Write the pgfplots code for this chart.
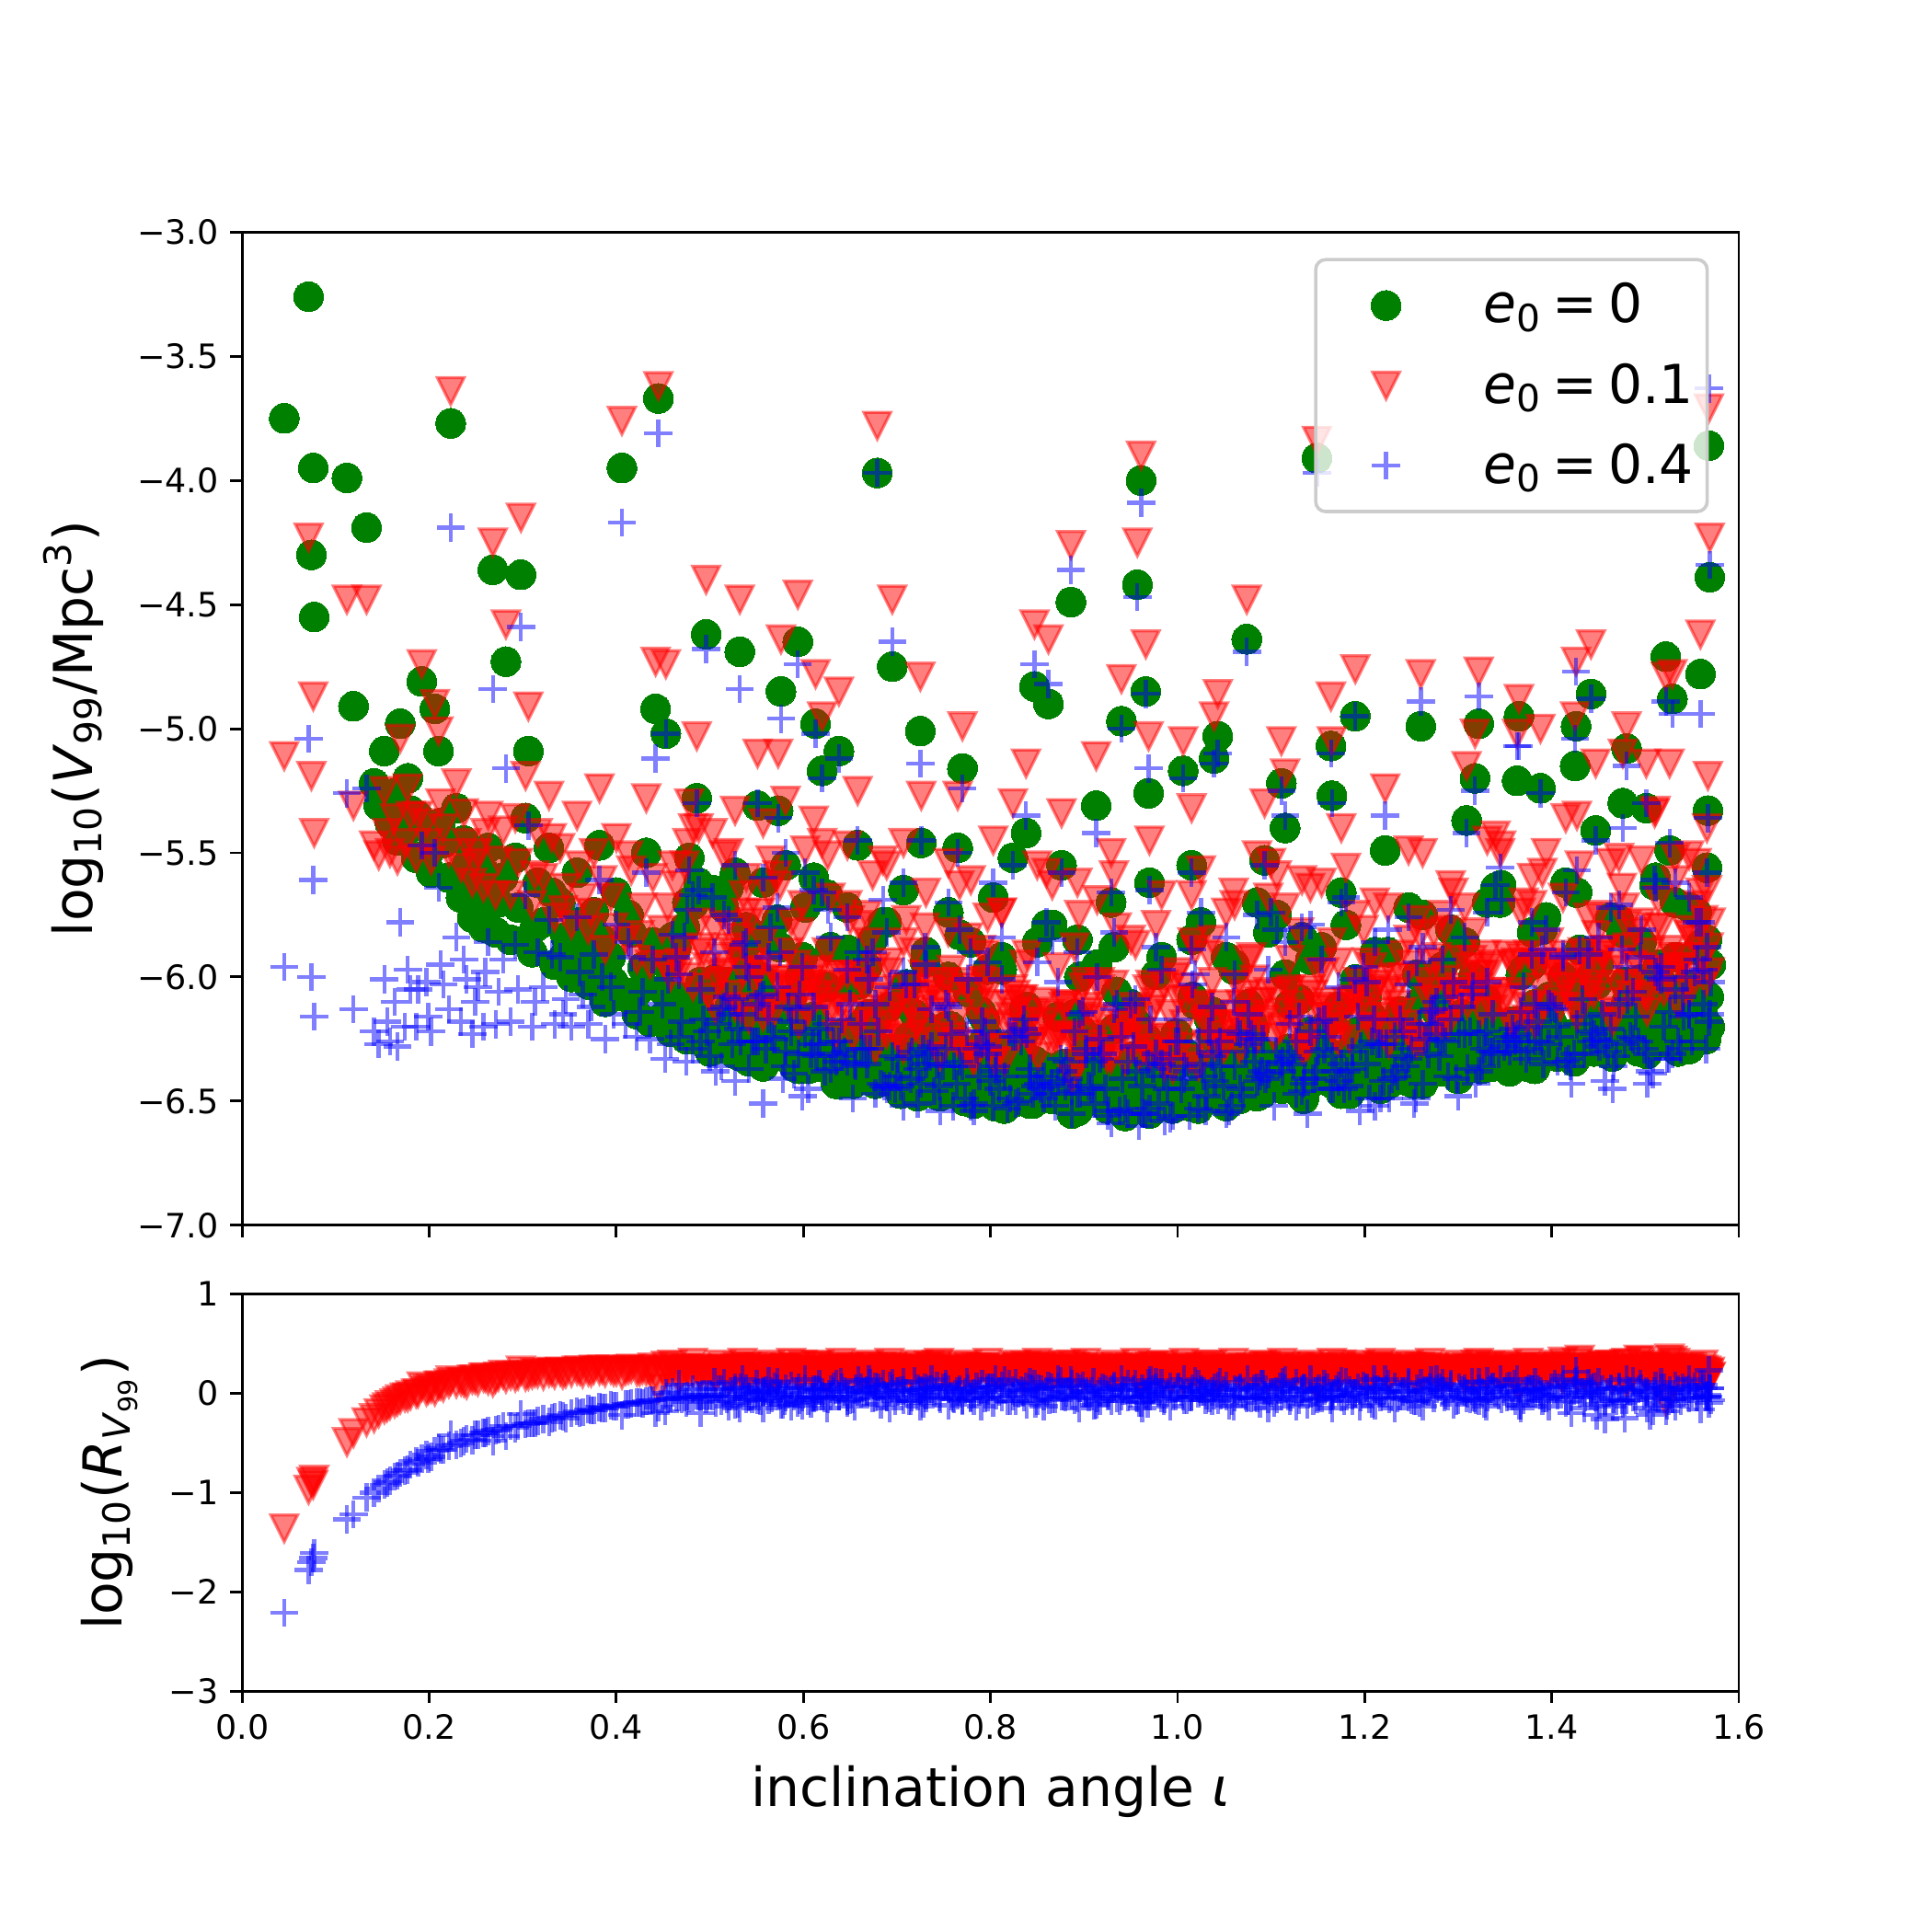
\documentclass[border=0pt]{standalone}
\usepackage{fontspec}
\setmainfont{DejaVu Sans}
\usepackage{pgfplots}
\usepackage{pgfplotstable}
\pgfplotsset{compat=1.18}
\definecolor{mplgreen}{RGB}{0,128,0}
\definecolor{leggray}{RGB}{204,204,204}
\pgfdeclareplotmark{tridown}{%
  \pgfpathmoveto{\pgfqpoint{0pt}{-\pgfplotmarksize}}%
  \pgfpathlineto{\pgfqpoint{-\pgfplotmarksize}{\pgfplotmarksize}}%
  \pgfpathlineto{\pgfqpoint{\pgfplotmarksize}{\pgfplotmarksize}}%
  \pgfpathclose
  \pgfusepathqfillstroke
}
\newcommand{\eq}{\hspace{3.2pt}=\hspace{3.2pt}}
\begin{document}
\pgfplotstableread{
x g r b dr db
0.045 -3.75 -5.11 -5.96 -1.36 -2.21
0.071 -3.26 -4.23 -5.04 -0.97 -1.78
0.074 -4.30 -5.19 -6.00 -0.89 -1.70
0.076 -3.95 -4.87 -5.61 -0.92 -1.66
0.077 -4.55 -5.42 -6.16 -0.87 -1.61
0.112 -3.99 -4.48 -5.26 -0.49 -1.27
0.119 -4.91 -5.31 -6.13 -0.40 -1.22
0.133 -4.19 -4.48 -5.24 -0.29 -1.05
0.141 -5.22 -5.47 -6.22 -0.25 -1.00
0.146 -5.31 -5.51 -6.27 -0.20 -0.96
0.152 -5.09 -5.25 -6.01 -0.16 -0.92
0.158 -5.38 -5.50 -6.26 -0.12 -0.88
0.163 -5.26 -5.36 -6.10 -0.10 -0.84
0.169 -4.98 -5.04 -5.78 -0.06 -0.80
0.174 -5.42 -5.46 -6.20 -0.04 -0.78
0.180 -5.33 -5.35 -6.05 -0.02 -0.72
0.186 -5.52 -5.52 -6.20 0.00 -0.68
0.192 -4.81 -4.74 -5.47 0.07 -0.66
0.197 -5.40 -5.38 -6.02 0.02 -0.62
0.202 -5.58 -5.53 -6.22 0.05 -0.64
0.206 -4.92 -4.90 -5.50 0.02 -0.58
0.210 -5.09 -5.01 -5.64 0.08 -0.55
0.215 -5.46 -5.40 -6.03 0.06 -0.57
0.223 -3.77 -3.64 -4.19 0.13 -0.42
0.229 -5.32 -5.22 -5.84 0.10 -0.52
0.234 -5.68 -5.56 -6.18 0.12 -0.50
0.240 -5.55 -5.46 -6.01 0.09 -0.46
0.246 -5.76 -5.62 -6.23 0.14 -0.47
0.252 -5.62 -5.50 -6.04 0.12 -0.42
0.258 -5.80 -5.64 -6.20 0.16 -0.40
0.263 -5.48 -5.35 -5.86 0.13 -0.38
0.268 -4.36 -4.25 -4.84 0.11 -0.48
0.274 -5.70 -5.53 -6.06 0.17 -0.36
0.282 -4.73 -4.58 -5.16 0.15 -0.43
0.287 -5.85 -5.67 -6.18 0.18 -0.33
0.292 -5.52 -5.36 -5.87 0.16 -0.35
0.298 -4.38 -4.15 -4.59 0.23 -0.21
0.303 -5.36 -5.19 -5.67 0.17 -0.31
0.306 -5.09 -4.91 -5.39 0.18 -0.30
0.310 -5.90 -5.71 -6.20 0.19 -0.30
0.316 -5.62 -5.42 -5.90 0.20 -0.28
0.322 -5.78 -5.60 -6.04 0.18 -0.26
0.328 -5.48 -5.27 -5.77 0.21 -0.29
0.334 -5.95 -5.76 -6.19 0.19 -0.24
0.340 -5.70 -5.48 -5.92 0.22 -0.22
0.346 -5.84 -5.64 -6.09 0.20 -0.25
0.352 -6.00 -5.79 -6.20 0.21 -0.20
0.358 -5.58 -5.35 -5.76 0.23 -0.18
0.364 -5.88 -5.68 -6.07 0.20 -0.19
0.370 -6.03 -5.81 -6.19 0.22 -0.16
0.376 -5.74 -5.50 -5.91 0.24 -0.17
0.382 -5.47 -5.24 -5.61 0.23 -0.14
0.388 -6.10 -5.89 -6.25 0.21 -0.15
0.394 -5.92 -5.68 -6.04 0.24 -0.12
0.400 -5.66 -5.44 -5.79 0.22 -0.13
0.406 -3.95 -3.76 -4.17 0.19 -0.22
0.410 -6.08 -5.85 -6.19 0.23 -0.11
0.416 -5.82 -5.57 -5.92 0.25 -0.10
0.422 -6.15 -5.93 -6.24 0.22 -0.09
0.428 -5.96 -5.72 -6.06 0.24 -0.10
0.432 -5.50 -5.28 -5.58 0.22 -0.08
0.436 -6.18 -5.95 -6.25 0.23 -0.07
0.442 -4.92 -4.73 -5.12 0.19 -0.20
0.445 -3.67 -3.62 -3.81 0.05 -0.14
0.449 -6.05 -5.81 -6.11 0.24 -0.06
0.453 -5.02 -4.74 -5.02 0.28 0.00
0.458 -6.22 -6.00 -6.27 0.22 -0.05
0.464 -5.88 -5.63 -5.92 0.25 -0.04
0.470 -6.12 -5.89 -6.18 0.23 -0.06
0.476 -5.70 -5.46 -5.73 0.24 -0.03
0.478 -5.52 -5.30 -5.57 0.22 -0.05
0.482 -6.25 -6.04 -6.29 0.21 -0.04
0.486 -5.28 -5.03 -5.30 0.25 -0.02
0.490 -6.02 -5.78 -6.05 0.24 -0.03
0.496 -4.62 -4.40 -4.68 0.22 -0.06
0.500 -6.30 -6.08 -6.32 0.22 -0.02
0.155 -5.28 -5.42 -6.18 -0.14 -0.90
0.166 -5.45 -5.53 -6.28 -0.08 -0.83
0.177 -5.20 -5.24 -5.97 -0.04 -0.77
0.188 -5.35 -5.35 -6.05 0.00 -0.70
0.199 -5.50 -5.46 -6.16 0.04 -0.66
0.212 -5.38 -5.30 -5.95 0.08 -0.57
0.221 -5.60 -5.50 -6.13 0.10 -0.53
0.237 -5.45 -5.34 -5.93 0.11 -0.48
0.249 -5.68 -5.54 -6.10 0.14 -0.42
0.260 -5.58 -5.42 -5.98 0.16 -0.40
0.271 -5.82 -5.67 -6.19 0.15 -0.37
0.279 -5.60 -5.41 -5.93 0.19 -0.33
0.295 -5.72 -5.54 -6.05 0.18 -0.33
0.313 -5.80 -5.59 -6.10 0.21 -0.30
0.331 -5.66 -5.44 -5.91 0.22 -0.25
0.343 -5.92 -5.73 -6.15 0.19 -0.23
0.361 -5.78 -5.55 -5.98 0.23 -0.20
0.373 -5.95 -5.74 -6.12 0.21 -0.17
0.385 -5.85 -5.61 -6.00 0.24 -0.15
0.397 -6.02 -5.80 -6.15 0.22 -0.13
0.413 -5.75 -5.51 -5.86 0.24 -0.11
0.425 -6.05 -5.83 -6.14 0.22 -0.09
0.439 -5.86 -5.60 -5.93 0.26 -0.07
0.455 -5.95 -5.72 -6.01 0.23 -0.06
0.467 -6.20 -5.98 -6.24 0.22 -0.04
0.473 -5.80 -5.55 -5.84 0.25 -0.04
0.488 -5.62 -5.40 -5.65 0.22 -0.03
0.493 -6.15 -5.90 -6.17 0.25 -0.02
0.503 -5.65 -5.42 -5.68 0.23 -0.03
0.515 -5.72 -5.51 -5.75 0.21 -0.03
0.527 -5.58 -5.33 -5.55 0.25 0.03
0.539 -5.80 -5.60 -5.86 0.20 -0.06
0.557 -5.62 -5.38 -5.60 0.24 0.02
0.563 -5.85 -5.66 -5.92 0.19 -0.07
0.581 -5.55 -5.29 -5.50 0.26 0.05
0.599 -5.92 -5.71 -5.96 0.21 -0.04
0.611 -5.60 -5.37 -5.65 0.23 -0.05
0.629 -5.88 -5.68 -5.84 0.20 0.04
0.647 -5.72 -5.47 -5.76 0.25 -0.04
0.668 -5.96 -5.75 -5.93 0.21 0.03
0.689 -5.78 -5.55 -5.82 0.23 -0.04
0.707 -5.65 -5.46 -5.62 0.19 0.03
0.731 -5.90 -5.66 -5.95 0.24 -0.05
0.755 -5.74 -5.54 -5.70 0.20 0.04
0.779 -5.86 -5.61 -5.90 0.25 -0.04
0.797 -5.97 -5.76 -5.94 0.21 0.03
0.893 -5.85 -5.62 -5.90 0.23 -0.05
0.929 -5.70 -5.50 -5.66 0.20 0.04
0.983 -5.92 -5.67 -5.97 0.25 -0.05
1.025 -5.78 -5.57 -5.74 0.21 0.04
1.061 -5.95 -5.71 -5.99 0.24 -0.04
1.085 -5.70 -5.51 -5.75 0.19 -0.05
1.133 -5.84 -5.61 -5.80 0.23 0.04
1.175 -5.66 -5.40 -5.70 0.26 -0.04
1.211 -5.90 -5.70 -5.86 0.20 0.04
1.247 -5.72 -5.49 -5.76 0.23 -0.04
1.283 -5.96 -5.75 -5.93 0.21 0.03
1.331 -5.70 -5.45 -5.74 0.25 -0.04
1.379 -5.82 -5.60 -5.78 0.22 0.04
1.415 -5.62 -5.36 -5.66 0.26 -0.04
1.463 -5.76 -5.54 -5.72 0.22 0.04
1.511 -5.60 -5.33 -5.64 0.27 -0.04
1.547 -5.72 -5.51 -5.68 0.21 0.04
0.532 -4.69 -4.48 -4.84 0.21 -0.15
0.551 -5.31 -5.10 -5.30 0.21 0.01
0.573 -5.33 -5.10 -5.36 0.23 -0.03
0.576 -4.85 -4.64 -4.96 0.21 -0.11
0.594 -4.65 -4.46 -4.74 0.19 -0.09
0.613 -4.98 -4.78 -5.02 0.20 -0.04
0.620 -5.17 -4.95 -5.20 0.22 -0.03
0.638 -5.09 -4.85 -5.12 0.24 -0.03
0.658 -5.47 -5.25 -5.45 0.22 0.02
0.679 -3.97 -3.78 -3.97 0.19 0.00
0.695 -4.75 -4.48 -4.65 0.27 0.10
0.725 -5.01 -4.79 -5.14 0.22 -0.13
0.726 -5.46 -5.27 -5.45 0.19 0.01
0.770 -5.16 -4.99 -5.24 0.17 -0.08
0.765 -5.48 -5.27 -5.50 0.21 -0.02
0.803 -5.68 -5.45 -5.62 0.23 0.06
0.824 -5.52 -5.30 -5.55 0.22 -0.03
0.838 -5.42 -5.14 -5.35 0.28 0.07
0.847 -4.83 -4.58 -4.74 0.25 0.09
0.862 -4.90 -4.64 -4.82 0.26 0.08
0.876 -5.55 -5.34 -5.58 0.21 -0.03
0.886 -4.49 -4.26 -4.36 0.23 0.13
0.913 -5.31 -5.11 -5.42 0.20 -0.11
0.940 -4.97 -4.80 -5.00 0.17 -0.03
0.957 -4.42 -4.25 -4.47 0.17 -0.05
0.961 -4.00 -3.90 -4.09 0.10 -0.09
0.966 -4.85 -4.66 -4.86 0.19 -0.01
0.969 -5.26 -5.03 -5.16 0.23 0.10
0.970 -5.62 -5.45 -5.65 0.17 -0.03
1.006 -5.17 -5.05 -5.20 0.12 -0.03
1.015 -5.55 -5.32 -5.58 0.23 -0.03
1.039 -5.12 -4.95 -5.14 0.17 -0.02
1.043 -5.03 -4.86 -5.10 0.17 -0.07
1.074 -4.64 -4.48 -4.69 0.16 -0.05
1.093 -5.53 -5.30 -5.55 0.23 -0.02
1.111 -5.22 -5.05 -5.25 0.17 -0.03
1.115 -5.40 -5.18 -5.35 0.22 0.05
1.149 -3.91 -3.84 -3.97 0.07 -0.06
1.164 -5.07 -4.87 -5.10 0.20 -0.03
1.165 -5.27 -5.05 -5.30 0.22 -0.03
1.190 -4.95 -4.76 -4.95 0.19 0.00
1.222 -5.49 -5.24 -5.35 0.25 0.14
1.260 -4.99 -4.78 -4.89 0.21 0.10
1.309 -5.37 -5.15 -5.42 0.22 -0.05
1.318 -5.20 -5.02 -5.25 0.18 -0.05
1.322 -4.98 -4.77 -4.87 0.21 0.11
1.363 -5.21 -5.02 -5.07 0.19 0.14
1.365 -4.95 -4.88 -5.07 0.07 -0.12
1.388 -5.24 -5.00 -5.26 0.24 -0.02
1.425 -5.15 -4.95 -5.04 0.20 0.11
1.426 -4.99 -4.73 -4.77 0.26 0.22
1.442 -4.86 -4.66 -4.88 0.20 -0.02
1.447 -5.41 -5.14 -5.45 0.27 -0.04
1.476 -5.30 -5.10 -5.40 0.20 -0.10
1.480 -5.08 -4.99 -5.15 0.09 -0.07
1.501 -5.32 -5.14 -5.30 0.18 0.02
1.522 -4.71 -4.79 -4.89 -0.08 -0.18
1.529 -4.88 -4.78 -4.94 0.10 -0.06
1.526 -5.49 -5.14 -5.46 0.35 0.03
1.559 -4.78 -4.62 -4.94 0.16 -0.16
1.567 -5.33 -5.19 -5.36 0.14 -0.03
1.566 -5.56 -5.40 -5.58 0.16 -0.02
1.568 -3.86 -3.71 -3.63 0.15 0.23
1.569 -4.39 -4.23 -4.34 0.16 0.05
0.506 -6.29 -6.13 -6.38 0.16 -0.09
0.512 -6.17 -5.92 -6.13 0.25 0.04
0.518 -6.02 -5.79 -6.08 0.23 -0.06
0.524 -6.26 -6.07 -6.27 0.19 -0.01
0.530 -6.11 -5.84 -6.21 0.27 -0.10
0.536 -5.89 -5.67 -5.87 0.22 0.02
0.542 -6.34 -6.17 -6.37 0.17 -0.03
0.548 -6.25 -6.01 -6.26 0.24 -0.01
0.554 -6.00 -5.74 -6.08 0.26 -0.08
0.560 -6.32 -6.12 -6.29 0.20 0.03
0.566 -6.19 -5.96 -6.24 0.23 -0.05
0.572 -5.77 -5.59 -5.72 0.18 0.05
0.578 -6.30 -6.05 -6.41 0.25 -0.11
0.584 -6.12 -5.90 -6.12 0.22 0.00
0.590 -6.36 -6.10 -6.39 0.26 -0.03
0.596 -6.00 -5.82 -6.07 0.18 -0.07
0.602 -6.28 -6.04 -6.23 0.24 0.05
0.608 -6.21 -6.01 -6.31 0.20 -0.10
0.614 -6.36 -6.08 -6.32 0.28 0.04
0.620 -5.67 -5.46 -5.66 0.21 0.01
0.626 -5.67 -5.51 -5.73 0.16 -0.06
0.632 -6.38 -6.13 -6.31 0.25 0.07
0.638 -6.23 -6.00 -6.26 0.23 -0.03
0.644 -6.32 -6.13 -6.30 0.19 0.02
0.650 -6.04 -5.77 -6.11 0.27 -0.07
0.656 -6.41 -6.19 -6.36 0.22 0.05
0.662 -6.19 -6.02 -6.19 0.17 0.00
0.668 -6.37 -6.13 -6.35 0.24 0.02
0.674 -5.85 -5.59 -5.90 0.26 -0.05
0.680 -6.28 -6.08 -6.22 0.20 0.06
0.686 -6.42 -6.19 -6.44 0.23 -0.02
0.692 -6.12 -5.94 -6.04 0.18 0.08
0.698 -6.37 -6.12 -6.45 0.25 -0.08
0.704 -6.47 -6.25 -6.44 0.22 0.03
0.710 -6.03 -5.77 -6.03 0.26 0.00
0.716 -6.26 -6.08 -6.30 0.18 -0.04
0.722 -6.42 -6.18 -6.37 0.24 0.05
0.728 -6.19 -5.99 -6.29 0.20 -0.10
0.734 -6.35 -6.07 -6.31 0.28 0.04
0.740 -6.47 -6.26 -6.46 0.21 0.01
0.746 -6.48 -6.32 -6.54 0.16 -0.06
0.752 -6.36 -6.11 -6.29 0.25 0.07
0.758 -6.20 -5.97 -6.23 0.23 -0.03
0.764 -6.45 -6.26 -6.43 0.19 0.02
0.770 -6.29 -6.02 -6.36 0.27 -0.07
0.776 -6.06 -5.84 -6.01 0.22 0.05
0.782 -6.51 -6.34 -6.51 0.17 0.00
0.788 -6.42 -6.18 -6.40 0.24 0.02
0.794 -6.17 -5.91 -6.22 0.26 -0.05
0.800 -6.48 -6.28 -6.42 0.20 0.06
0.806 -6.34 -6.11 -6.36 0.23 -0.02
0.812 -5.92 -5.74 -5.84 0.18 0.08
0.818 -6.45 -6.20 -6.53 0.25 -0.08
0.824 -6.27 -6.05 -6.24 0.22 0.03
0.830 -6.50 -6.24 -6.50 0.26 0.00
0.836 -6.13 -5.95 -6.17 0.18 -0.04
0.842 -6.42 -6.18 -6.37 0.24 0.05
0.848 -6.34 -6.14 -6.44 0.20 -0.10
0.854 -6.49 -6.21 -6.45 0.28 0.04
0.860 -5.79 -5.58 -5.78 0.21 0.01
0.866 -5.79 -5.63 -5.85 0.16 -0.06
0.872 -6.49 -6.24 -6.42 0.25 0.07
0.878 -6.35 -6.12 -6.38 0.23 -0.03
0.884 -6.43 -6.24 -6.41 0.19 0.02
0.890 -6.15 -5.88 -6.22 0.27 -0.07
0.896 -6.52 -6.30 -6.47 0.22 0.05
0.902 -6.29 -6.12 -6.29 0.17 0.00
0.908 -6.47 -6.23 -6.45 0.24 0.02
0.914 -5.95 -5.69 -6.00 0.26 -0.05
0.920 -6.37 -6.17 -6.31 0.20 0.06
0.926 -6.52 -6.29 -6.54 0.23 -0.02
0.932 -6.21 -6.03 -6.13 0.18 0.08
0.938 -6.46 -6.21 -6.54 0.25 -0.08
0.944 -6.56 -6.34 -6.53 0.22 0.03
0.950 -6.11 -5.85 -6.11 0.26 0.00
0.956 -6.34 -6.16 -6.38 0.18 -0.04
0.962 -6.49 -6.25 -6.44 0.24 0.05
0.968 -6.25 -6.05 -6.35 0.20 -0.10
0.974 -6.41 -6.13 -6.37 0.28 0.04
0.980 -6.52 -6.31 -6.51 0.21 0.01
0.986 -6.52 -6.36 -6.58 0.16 -0.06
0.992 -6.40 -6.15 -6.33 0.25 0.07
0.998 -6.23 -6.00 -6.26 0.23 -0.03
1.004 -6.47 -6.28 -6.45 0.19 0.02
1.010 -6.31 -6.04 -6.38 0.27 -0.07
1.016 -6.08 -5.86 -6.03 0.22 0.05
1.022 -6.53 -6.36 -6.53 0.17 0.00
1.028 -6.42 -6.18 -6.40 0.24 0.02
1.034 -6.17 -5.91 -6.22 0.26 -0.05
1.040 -6.48 -6.28 -6.42 0.20 0.06
1.046 -6.34 -6.11 -6.36 0.23 -0.02
1.052 -5.92 -5.74 -5.84 0.18 0.08
1.058 -6.44 -6.19 -6.52 0.25 -0.08
1.064 -6.25 -6.03 -6.22 0.22 0.03
1.070 -6.48 -6.22 -6.48 0.26 0.00
1.076 -6.11 -5.93 -6.15 0.18 -0.04
1.082 -6.39 -6.15 -6.34 0.24 0.05
1.088 -6.30 -6.10 -6.40 0.20 -0.10
1.094 -6.45 -6.17 -6.41 0.28 0.04
1.100 -5.75 -5.54 -5.74 0.21 0.01
1.106 -5.75 -5.59 -5.81 0.16 -0.06
1.112 -6.45 -6.20 -6.38 0.25 0.07
1.118 -6.29 -6.06 -6.32 0.23 -0.03
1.124 -6.37 -6.18 -6.35 0.19 0.02
1.130 -6.09 -5.82 -6.16 0.27 -0.07
1.136 -6.46 -6.24 -6.41 0.22 0.05
1.142 -6.22 -6.05 -6.22 0.17 0.00
1.148 -6.40 -6.16 -6.38 0.24 0.02
1.154 -5.88 -5.62 -5.93 0.26 -0.05
1.160 -6.30 -6.10 -6.24 0.20 0.06
1.166 -6.43 -6.20 -6.45 0.23 -0.02
1.172 -6.12 -5.94 -6.04 0.18 0.08
1.178 -6.37 -6.12 -6.45 0.25 -0.08
1.184 -6.47 -6.25 -6.44 0.22 0.03
1.190 -6.01 -5.75 -6.01 0.26 0.00
1.196 -6.24 -6.06 -6.28 0.18 -0.04
1.202 -6.40 -6.16 -6.35 0.24 0.05
1.208 -6.16 -5.96 -6.26 0.20 -0.10
1.214 -6.31 -6.03 -6.27 0.28 0.04
1.220 -6.43 -6.22 -6.42 0.21 0.01
1.226 -6.43 -6.27 -6.49 0.16 -0.06
1.232 -6.31 -6.06 -6.24 0.25 0.07
1.238 -6.14 -5.91 -6.17 0.23 -0.03
1.244 -6.38 -6.19 -6.36 0.19 0.02
1.250 -6.22 -5.95 -6.29 0.27 -0.07
1.256 -5.99 -5.77 -5.94 0.22 0.05
1.262 -6.43 -6.26 -6.43 0.17 0.00
1.268 -6.33 -6.09 -6.31 0.24 0.02
1.274 -6.08 -5.82 -6.13 0.26 -0.05
1.280 -6.38 -6.18 -6.32 0.20 0.06
1.286 -6.24 -6.01 -6.26 0.23 -0.02
1.292 -5.81 -5.63 -5.73 0.18 0.08
1.298 -6.33 -6.08 -6.41 0.25 -0.08
1.304 -6.15 -5.93 -6.12 0.22 0.03
1.310 -6.37 -6.11 -6.37 0.26 0.00
1.316 -6.00 -5.82 -6.04 0.18 -0.04
1.322 -6.28 -6.04 -6.23 0.24 0.05
1.328 -6.19 -5.99 -6.29 0.20 -0.10
1.334 -6.34 -6.06 -6.30 0.28 0.04
1.340 -5.64 -5.43 -5.63 0.21 0.01
1.346 -5.63 -5.47 -5.69 0.16 -0.06
1.352 -6.33 -6.08 -6.26 0.25 0.07
1.358 -6.18 -5.95 -6.21 0.23 -0.03
1.364 -6.25 -6.06 -6.23 0.19 0.02
1.370 -5.97 -5.70 -6.04 0.27 -0.07
1.376 -6.34 -6.12 -6.29 0.22 0.05
1.382 -6.11 -5.94 -6.11 0.17 0.00
1.388 -6.28 -6.04 -6.26 0.24 0.02
1.394 -5.76 -5.50 -5.81 0.26 -0.05
1.400 -6.18 -5.98 -6.12 0.20 0.06
1.406 -6.32 -6.09 -6.34 0.23 -0.02
1.412 -6.00 -5.68 -5.92 0.32 0.08
1.418 -6.25 -6.00 -6.33 0.25 -0.08
1.424 -6.34 -6.12 -6.31 0.22 0.03
1.430 -5.89 -5.55 -5.89 0.34 0.00
1.436 -6.12 -5.94 -6.16 0.18 -0.04
1.442 -6.27 -6.03 -6.22 0.24 0.05
1.448 -6.03 -5.83 -6.25 0.20 -0.22
1.454 -6.19 -5.91 -6.15 0.28 0.04
1.460 -6.31 -6.10 -6.30 0.21 0.01
1.466 -6.30 -6.14 -6.36 0.16 -0.06
1.472 -6.18 -5.93 -6.11 0.25 0.07
1.478 -6.02 -5.72 -6.27 0.30 -0.25
1.484 -6.26 -6.07 -6.24 0.19 0.02
1.490 -6.09 -5.82 -6.16 0.27 -0.07
1.496 -5.86 -5.53 -5.81 0.33 0.05
1.502 -6.31 -6.14 -6.31 0.17 0.00
1.508 -6.21 -5.97 -6.39 0.24 -0.18
1.514 -5.95 -5.69 -6.00 0.26 -0.05
1.520 -6.26 -6.06 -6.20 0.20 0.06
1.526 -6.12 -5.89 -6.14 0.23 -0.02
1.532 -5.70 -5.52 -5.62 0.18 0.08
1.538 -6.21 -5.96 -6.29 0.25 -0.08
1.544 -6.03 -5.81 -6.00 0.22 0.03
1.550 -6.26 -6.00 -6.26 0.26 0.00
1.556 -5.89 -5.71 -5.93 0.18 -0.04
1.562 -6.16 -5.92 -6.11 0.24 0.05
1.568 -6.08 -5.88 -6.18 0.20 -0.10
1.566 -5.85 -5.65 -5.88 0.20 -0.03
1.569 -6.20 -5.98 -6.15 0.22 0.05
1.570 -5.95 -5.78 -6.02 0.17 -0.07
0.509 -6.23 -6.02 -6.19 0.21 0.04
0.521 -6.12 -5.88 -6.15 0.24 -0.03
0.533 -6.32 -6.13 -6.26 0.19 0.06
0.545 -6.20 -5.94 -6.26 0.26 -0.06
0.557 -6.08 -5.86 -6.07 0.22 0.01
0.569 -6.32 -6.14 -6.25 0.18 0.07
0.581 -6.26 -6.01 -6.30 0.25 -0.04
0.593 -6.15 -5.95 -6.13 0.20 0.02
0.605 -6.37 -6.14 -6.45 0.23 -0.08
0.617 -6.24 -5.97 -6.21 0.27 0.03
0.629 -6.34 -6.13 -6.37 0.21 -0.03
0.641 -6.23 -5.99 -6.17 0.24 0.06
0.653 -6.43 -6.24 -6.49 0.19 -0.06
0.665 -6.30 -6.04 -6.29 0.26 0.01
0.677 -6.18 -5.96 -6.11 0.22 0.07
0.689 -6.41 -6.23 -6.45 0.18 -0.04
0.701 -6.35 -6.10 -6.33 0.25 0.02
0.713 -6.24 -6.04 -6.32 0.20 -0.08
0.725 -6.46 -6.23 -6.43 0.23 0.03
0.737 -6.32 -6.05 -6.28 0.27 0.04
0.749 -6.42 -6.21 -6.36 0.21 0.06
0.761 -6.30 -6.06 -6.36 0.24 -0.06
0.773 -6.50 -6.31 -6.49 0.19 0.01
0.785 -6.36 -6.10 -6.29 0.26 0.07
0.797 -6.24 -6.02 -6.28 0.22 -0.04
0.809 -6.47 -6.29 -6.45 0.18 0.02
0.821 -6.41 -6.16 -6.49 0.25 -0.08
0.833 -6.29 -6.09 -6.26 0.20 0.03
0.845 -6.51 -6.28 -6.47 0.23 0.04
0.857 -6.37 -6.10 -6.40 0.27 -0.03
0.869 -6.46 -6.25 -6.52 0.21 -0.06
0.881 -6.35 -6.11 -6.34 0.24 0.01
0.893 -6.54 -6.35 -6.47 0.19 0.07
0.905 -6.40 -6.14 -6.44 0.26 -0.04
0.917 -6.27 -6.05 -6.25 0.22 0.02
0.929 -6.51 -6.33 -6.59 0.18 -0.08
0.941 -6.44 -6.19 -6.41 0.25 0.03
0.953 -6.32 -6.12 -6.28 0.20 0.04
0.965 -6.52 -6.29 -6.55 0.23 -0.03
0.977 -6.37 -6.10 -6.31 0.27 0.06
0.989 -6.46 -6.25 -6.45 0.21 0.01
1.001 -6.33 -6.09 -6.26 0.24 0.07
1.013 -6.52 -6.33 -6.56 0.19 -0.04
1.025 -6.37 -6.11 -6.35 0.26 0.02
1.037 -6.24 -6.02 -6.32 0.22 -0.08
1.049 -6.47 -6.29 -6.44 0.18 0.03
1.061 -6.40 -6.15 -6.36 0.25 0.04
1.073 -6.27 -6.07 -6.30 0.20 -0.03
1.085 -6.48 -6.25 -6.42 0.23 0.06
1.097 -6.33 -6.06 -6.39 0.27 -0.06
1.109 -6.42 -6.21 -6.35 0.21 0.07
1.121 -6.29 -6.05 -6.33 0.24 -0.04
1.133 -6.48 -6.29 -6.46 0.19 0.02
1.145 -6.33 -6.07 -6.41 0.26 -0.08
1.157 -6.20 -5.98 -6.17 0.22 0.03
1.169 -6.42 -6.24 -6.38 0.18 0.04
1.181 -6.35 -6.10 -6.38 0.25 -0.03
1.193 -6.22 -6.02 -6.16 0.20 0.06
1.205 -6.43 -6.20 -6.49 0.23 -0.06
1.217 -6.28 -6.01 -6.27 0.27 0.01
1.229 -6.37 -6.16 -6.41 0.21 -0.04
1.241 -6.24 -6.00 -6.22 0.24 0.02
1.253 -6.43 -6.24 -6.51 0.19 -0.08
1.265 -6.28 -6.02 -6.25 0.26 0.03
1.277 -6.14 -5.92 -6.10 0.22 0.04
1.289 -6.37 -6.19 -6.40 0.18 -0.03
1.301 -6.29 -6.04 -6.23 0.25 0.06
1.313 -6.16 -5.96 -6.22 0.20 -0.06
1.325 -6.37 -6.14 -6.36 0.23 0.01
1.337 -6.22 -5.95 -6.15 0.27 0.07
1.349 -6.30 -6.09 -6.28 0.21 0.02
1.361 -6.18 -5.94 -6.26 0.24 -0.08
1.373 -6.36 -6.17 -6.33 0.19 0.03
1.385 -6.22 -5.96 -6.18 0.26 0.04
1.397 -6.08 -5.86 -6.11 0.22 -0.03
1.409 -6.30 -6.12 -6.24 0.18 0.06
1.421 -6.23 -5.98 -6.43 0.25 -0.20
1.433 -6.10 -5.90 -6.09 0.20 0.01
1.445 -6.30 -6.07 -6.23 0.23 0.07
1.457 -6.16 -5.89 -6.42 0.27 -0.26
1.469 -6.24 -6.03 -6.32 0.21 -0.08
1.481 -6.12 -5.88 -6.09 0.24 0.03
1.493 -6.30 -5.96 -6.26 0.34 0.04
1.505 -6.16 -5.90 -6.38 0.26 -0.22
1.517 -6.02 -5.80 -5.96 0.22 0.06
1.529 -6.25 -5.92 -6.31 0.33 -0.06
1.541 -6.17 -5.92 -6.16 0.25 0.01
1.553 -6.05 -5.85 -5.98 0.20 0.07
1.565 -6.25 -6.02 -6.29 0.23 -0.04
0.515 -6.22 -5.98 -6.12 0.24 0.10
0.527 -6.31 -6.12 -6.42 0.19 -0.11
0.539 -6.01 -5.74 -5.96 0.27 0.05
0.551 -6.19 -5.98 -6.26 0.21 -0.07
0.563 -6.29 -6.13 -6.17 0.16 0.12
0.575 -5.88 -5.63 -5.90 0.25 -0.02
0.587 -6.26 -6.04 -6.18 0.22 0.08
0.599 -6.36 -6.07 -6.48 0.29 -0.12
0.611 -6.16 -5.98 -6.12 0.18 0.04
0.623 -6.33 -6.10 -6.38 0.23 -0.05
0.635 -6.43 -6.23 -6.34 0.20 0.09
0.647 -6.25 -5.99 -6.34 0.26 -0.09
0.659 -6.03 -5.79 -5.90 0.24 0.13
0.671 -6.39 -6.20 -6.29 0.19 0.10
0.683 -6.32 -6.05 -6.43 0.27 -0.11
0.695 -6.37 -6.16 -6.32 0.21 0.05
0.707 -6.45 -6.29 -6.52 0.16 -0.07
0.719 -6.15 -5.90 -6.03 0.25 0.12
0.731 -6.33 -6.11 -6.35 0.22 -0.02
0.743 -6.43 -6.14 -6.35 0.29 0.08
0.755 -6.00 -5.82 -6.12 0.18 -0.12
0.767 -6.38 -6.15 -6.34 0.23 0.04
0.779 -6.47 -6.27 -6.52 0.20 -0.05
0.791 -6.27 -6.01 -6.18 0.26 0.09
0.803 -6.43 -6.19 -6.52 0.24 -0.09
0.815 -6.53 -6.34 -6.40 0.19 0.13
0.827 -6.34 -6.07 -6.24 0.27 0.10
0.839 -6.12 -5.91 -6.23 0.21 -0.11
0.851 -6.48 -6.32 -6.43 0.16 0.05
0.863 -6.40 -6.15 -6.47 0.25 -0.07
0.875 -6.45 -6.23 -6.33 0.22 0.12
0.887 -6.53 -6.24 -6.55 0.29 -0.02
0.899 -6.22 -6.04 -6.14 0.18 0.08
0.911 -6.39 -6.16 -6.51 0.23 -0.12
0.923 -6.49 -6.29 -6.45 0.20 0.04
0.935 -6.06 -5.80 -6.11 0.26 -0.05
0.947 -6.43 -6.19 -6.34 0.24 0.09
0.959 -6.51 -6.32 -6.60 0.19 -0.09
0.971 -6.30 -6.03 -6.17 0.27 0.13
0.983 -6.45 -6.24 -6.35 0.21 0.10
0.995 -6.53 -6.37 -6.56 0.16 -0.03
1.007 -6.34 -6.09 -6.41 0.25 -0.07
1.019 -6.11 -5.89 -5.99 0.22 0.12
1.031 -6.46 -6.17 -6.48 0.29 -0.02
1.043 -6.38 -6.20 -6.30 0.18 0.08
1.055 -6.42 -6.19 -6.54 0.23 -0.12
1.067 -6.49 -6.29 -6.45 0.20 0.04
1.079 -6.18 -5.92 -6.23 0.26 -0.05
1.091 -6.34 -6.10 -6.25 0.24 0.09
1.103 -6.43 -6.24 -6.52 0.19 -0.09
1.115 -5.99 -5.72 -5.86 0.27 0.13
1.127 -6.36 -6.15 -6.26 0.21 0.10
1.139 -6.44 -6.28 -6.55 0.16 -0.11
1.151 -6.23 -5.98 -6.18 0.25 0.05
1.163 -6.38 -6.16 -6.45 0.22 -0.07
1.175 -6.47 -6.18 -6.35 0.29 0.12
1.187 -6.28 -6.10 -6.30 0.18 -0.02
1.199 -6.04 -5.81 -5.96 0.23 0.08
1.211 -6.40 -6.20 -6.52 0.20 -0.12
1.223 -6.31 -6.05 -6.27 0.26 0.04
1.235 -6.35 -6.11 -6.40 0.24 -0.05
1.247 -6.42 -6.23 -6.33 0.19 0.09
1.259 -6.10 -5.83 -6.19 0.27 -0.09
1.271 -6.27 -6.06 -6.14 0.21 0.13
1.283 -6.35 -6.19 -6.25 0.16 0.10
1.295 -5.91 -5.66 -6.02 0.25 -0.11
1.307 -6.28 -6.06 -6.23 0.22 0.05
1.319 -6.36 -6.07 -6.43 0.29 -0.07
1.331 -6.14 -5.96 -6.02 0.18 0.12
1.343 -6.29 -6.06 -6.31 0.23 -0.02
1.355 -6.38 -6.18 -6.30 0.20 0.08
1.367 -6.18 -5.92 -6.30 0.26 -0.12
1.379 -5.95 -5.71 -5.91 0.24 0.04
1.391 -6.30 -6.11 -6.35 0.19 -0.05
1.403 -6.22 -5.95 -6.13 0.27 0.09
1.415 -6.25 -6.04 -6.34 0.21 -0.09
1.427 -6.32 -6.16 -6.19 0.16 0.13
1.439 -6.01 -5.76 -5.91 0.25 0.10
1.451 -6.17 -5.95 -6.28 0.22 -0.11
1.463 -6.26 -5.97 -6.21 0.29 0.05
1.475 -5.82 -5.64 -5.89 0.18 -0.07
1.487 -6.18 -5.95 -6.06 0.23 0.12
1.499 -6.27 -6.07 -6.29 0.20 -0.02
1.511 -6.06 -5.80 -5.98 0.26 0.08
1.523 -6.21 -5.97 -6.33 0.24 -0.12
1.535 -6.30 -6.11 -6.26 0.19 0.04
1.547 -6.10 -5.83 -6.15 0.27 -0.05
1.559 -5.87 -5.66 -5.78 0.21 0.09
0.452 -6.15 -5.95 -6.33 0.20 -0.18
0.460 -5.84 -5.55 -5.83 0.29 0.01
0.467 -6.08 -5.94 -5.99 0.14 0.09
0.475 -6.25 -6.00 -6.34 0.25 -0.09
0.482 -5.71 -5.40 -5.67 0.31 0.04
0.490 -6.06 -5.88 -6.26 0.18 -0.20
0.497 -6.19 -5.96 -6.22 0.23 -0.03
0.505 -6.01 -5.81 -5.90 0.20 0.11
0.512 -6.28 -5.99 -6.36 0.29 -0.08
0.520 -5.64 -5.50 -5.77 0.14 -0.13
0.527 -6.15 -5.90 -6.09 0.25 0.06
0.535 -6.29 -5.98 -6.15 0.31 0.14
0.542 -5.96 -5.78 -6.00 0.18 -0.04
0.550 -6.20 -5.97 -6.11 0.23 0.09
0.557 -6.36 -6.16 -6.51 0.20 -0.15
0.565 -5.82 -5.53 -5.80 0.29 0.02
0.572 -6.15 -6.01 -6.04 0.14 0.11
0.580 -6.28 -6.03 -6.36 0.25 -0.08
0.587 -6.09 -5.78 -6.22 0.31 -0.13
0.595 -6.37 -6.19 -6.31 0.18 0.06
0.602 -5.72 -5.49 -5.58 0.23 0.14
0.610 -6.23 -6.03 -6.27 0.20 -0.04
0.617 -6.36 -6.07 -6.27 0.29 0.09
0.625 -6.04 -5.90 -6.19 0.14 -0.15
0.632 -6.28 -6.03 -6.26 0.25 0.02
0.640 -6.43 -6.12 -6.32 0.31 0.11
0.647 -5.89 -5.71 -5.97 0.18 -0.08
0.655 -6.22 -5.99 -6.35 0.23 -0.13
0.662 -6.35 -6.15 -6.29 0.20 0.06
0.670 -6.15 -5.86 -6.01 0.29 0.14
0.677 -6.43 -6.29 -6.47 0.14 -0.04
0.685 -5.78 -5.53 -5.69 0.25 0.09
0.692 -6.29 -5.98 -6.44 0.31 -0.15
0.700 -6.42 -6.24 -6.40 0.18 0.02
0.707 -6.09 -5.86 -5.98 0.23 0.11
0.715 -6.33 -6.13 -6.41 0.20 -0.08
0.722 -6.48 -6.19 -6.51 0.29 -0.03
0.730 -5.94 -5.80 -5.88 0.14 0.06
0.737 -6.27 -6.02 -6.13 0.25 0.14
0.745 -6.40 -6.09 -6.44 0.31 -0.04
0.752 -6.20 -6.02 -6.11 0.18 0.09
0.760 -6.47 -6.24 -6.52 0.23 -0.05
0.767 -5.83 -5.63 -5.81 0.20 0.02
0.775 -6.33 -6.04 -6.22 0.29 0.11
0.782 -6.46 -6.32 -6.54 0.14 -0.08
0.790 -6.14 -5.89 -6.27 0.25 -0.13
0.797 -6.37 -6.06 -6.31 0.31 0.06
0.805 -6.52 -6.34 -6.38 0.18 0.14
0.812 -5.97 -5.74 -6.01 0.23 -0.04
0.820 -6.31 -6.11 -6.22 0.20 0.09
0.827 -6.43 -6.14 -6.51 0.29 -0.08
0.835 -6.23 -6.09 -6.21 0.14 0.02
0.842 -6.51 -6.26 -6.40 0.25 0.11
0.850 -5.86 -5.55 -5.94 0.31 -0.08
0.857 -6.36 -6.18 -6.49 0.18 -0.13
0.865 -6.49 -6.26 -6.43 0.23 0.06
0.872 -6.16 -5.96 -6.02 0.20 0.14
0.880 -6.40 -6.11 -6.44 0.29 -0.04
0.887 -6.55 -6.41 -6.46 0.14 0.09
0.895 -6.00 -5.75 -6.15 0.25 -0.15
0.902 -6.33 -6.02 -6.31 0.31 0.02
0.910 -6.45 -6.27 -6.34 0.18 0.11
0.917 -6.25 -6.02 -6.33 0.23 -0.08
0.925 -6.53 -6.33 -6.56 0.20 -0.03
0.932 -5.88 -5.59 -5.82 0.29 0.06
0.940 -6.38 -6.24 -6.24 0.14 0.14
0.947 -6.51 -6.26 -6.55 0.25 -0.04
0.955 -6.18 -5.87 -6.09 0.31 0.09
0.962 -6.40 -6.22 -6.55 0.18 -0.15
0.970 -6.55 -6.32 -6.53 0.23 0.02
0.977 -5.99 -5.79 -5.88 0.20 0.11
0.985 -6.32 -6.03 -6.40 0.29 -0.08
0.992 -6.44 -6.30 -6.57 0.14 -0.13
1.000 -6.23 -5.98 -6.17 0.25 0.06
1.007 -6.50 -6.19 -6.36 0.31 0.14
1.015 -5.85 -5.67 -5.89 0.18 -0.04
1.022 -6.35 -6.12 -6.26 0.23 0.09
1.030 -6.47 -6.27 -6.54 0.20 -0.07
1.037 -6.14 -5.85 -6.12 0.29 0.02
1.045 -6.37 -6.23 -6.26 0.14 0.11
1.052 -6.52 -6.27 -6.55 0.25 -0.03
1.060 -5.97 -5.66 -6.10 0.31 -0.13
1.067 -6.29 -6.11 -6.23 0.18 0.06
1.075 -6.41 -6.18 -6.27 0.23 0.14
1.082 -6.21 -6.01 -6.25 0.20 -0.04
1.090 -6.47 -6.18 -6.38 0.29 0.09
1.097 -5.82 -5.68 -5.97 0.14 -0.15
1.105 -6.32 -6.07 -6.30 0.25 0.02
1.112 -6.45 -6.14 -6.34 0.31 0.11
1.120 -6.11 -5.93 -6.19 0.18 -0.08
1.127 -6.34 -6.11 -6.47 0.23 -0.13
1.135 -6.49 -6.29 -6.43 0.20 0.06
1.142 -5.93 -5.64 -5.79 0.29 0.14
1.150 -6.26 -6.12 -6.30 0.14 -0.04
1.157 -6.38 -6.13 -6.29 0.25 0.09
1.165 -6.17 -5.86 -6.32 0.31 -0.15
1.172 -6.44 -6.26 -6.42 0.18 0.02
1.180 -5.79 -5.56 -5.68 0.23 0.11
1.187 -6.29 -6.09 -6.37 0.20 -0.08
1.195 -6.41 -6.12 -6.54 0.29 -0.13
1.202 -6.08 -5.94 -6.02 0.14 0.06
1.210 -6.31 -6.06 -6.17 0.25 0.14
1.217 -6.45 -6.14 -6.49 0.31 -0.04
1.225 -5.90 -5.72 -5.81 0.18 0.09
1.232 -6.23 -6.00 -6.38 0.23 -0.15
1.240 -6.34 -6.14 -6.32 0.20 0.02
1.247 -6.14 -5.85 -6.03 0.29 0.11
1.255 -6.41 -6.27 -6.49 0.14 -0.08
1.262 -5.75 -5.50 -5.88 0.25 -0.13
1.270 -6.25 -5.94 -6.19 0.31 0.06
1.277 -6.37 -6.19 -6.23 0.18 0.14
1.285 -6.04 -5.81 -6.08 0.23 -0.04
1.292 -6.26 -6.06 -6.17 0.20 0.09
1.300 -6.41 -6.12 -6.48 0.29 -0.07
1.307 -5.86 -5.72 -5.84 0.14 0.02
1.315 -6.18 -5.93 -6.07 0.25 0.11
1.322 -6.30 -5.99 -6.38 0.31 -0.08
1.330 -6.09 -5.91 -6.22 0.18 -0.13
1.337 -6.36 -6.13 -6.30 0.23 0.06
1.345 -5.70 -5.50 -5.56 0.20 0.14
1.352 -6.20 -5.91 -6.24 0.29 -0.04
1.360 -6.33 -6.19 -6.24 0.14 0.09
1.367 -5.99 -5.74 -6.14 0.25 -0.15
1.375 -6.22 -5.91 -6.20 0.31 0.02
1.382 -6.37 -6.19 -6.26 0.18 0.11
1.390 -5.81 -5.58 -5.89 0.23 -0.08
1.397 -6.14 -5.94 -6.27 0.20 -0.13
1.405 -6.26 -5.97 -6.20 0.29 0.06
1.412 -6.05 -5.91 -5.91 0.14 0.14
1.420 -6.32 -6.07 -6.36 0.25 -0.04
1.427 -5.66 -5.35 -5.57 0.31 0.09
1.435 -6.16 -5.98 -6.31 0.18 -0.15
1.442 -6.28 -6.05 -6.26 0.23 0.02
1.450 -5.95 -5.75 -5.84 0.20 0.11
1.457 -6.18 -5.89 -6.26 0.29 -0.08
1.465 -6.32 -6.18 -6.45 0.14 -0.13
1.472 -5.77 -5.52 -5.71 0.25 0.06
1.480 -6.10 -5.79 -5.96 0.31 0.14
1.487 -6.21 -6.03 -6.25 0.18 -0.04
1.495 -6.01 -5.78 -5.92 0.23 0.09
1.502 -6.28 -6.08 -6.43 0.20 -0.15
1.510 -5.63 -5.34 -5.61 0.29 0.02
1.517 -6.12 -5.98 -6.01 0.14 0.11
1.525 -6.25 -6.00 -6.33 0.25 -0.08
1.532 -5.92 -5.61 -6.05 0.31 -0.13
1.540 -6.14 -5.96 -6.08 0.18 0.06
1.547 -6.29 -6.06 -6.15 0.23 0.14
1.555 -5.74 -5.54 -5.78 0.20 -0.04
1.562 -6.06 -5.77 -5.97 0.29 0.09
}\datatab
\begin{tikzpicture}
\path[use as bounding box] (0pt,0pt) rectangle (576pt,576pt);
\pgfplotsset{
  common/.style={
    scale only axis, width=446.2pt,
    xmin=0, xmax=1.6,
    xtick={0,0.2,0.4,0.6,0.8,1.0,1.2,1.4,1.6},
    tick pos=left, tick align=outside,
    major tick length=3.5pt,
    every tick/.style={black, line width=0.8pt},
    axis line style={line width=0.8pt},
    minor tick num=0,
    tick label style={font=\fontsize{10}{12}\selectfont},
  },
}
\begin{axis}[common,
  at={(72.2pt,210.7pt)}, anchor=south west, height=296.1pt,
  ymin=-7, ymax=-3,
  ytick={-7,-6.5,-6,-5.5,-5,-4.5,-4,-3.5,-3},
  yticklabels={−7.0,−6.5,−6.0,−5.5,−5.0,−4.5,−4.0,−3.5,−3.0},
  xticklabels={},
  ylabel={log\textsubscript{10}(\textit{V}\textsubscript{99}/Mpc\textsuperscript{3})},
  every axis y label/.style={at={(axis description cs:-0.1125,0.5)}, rotate=90, anchor=center, font=\fontsize{16}{19}\selectfont},
  legend style={at={(0.98,0.974)}, anchor=north east, draw=leggray, line width=1pt,
    rounded corners=3pt, fill=white, fill opacity=0.8, text opacity=1,
    font=\fontsize{16}{19}\selectfont, inner xsep=2pt, inner ysep=5pt,
    row sep=6.5pt, cells={anchor=west}},
  legend image code/.code={\path[draw=none,fill=none] (-19pt,-1pt) rectangle (27pt,1pt); \draw[#1,draw opacity=0] plot coordinates {(0pt,0pt)};},
]
\addplot[mplgreen, only marks, mark=*, mark size=4.45pt,
  mark options={draw=mplgreen, fill=mplgreen, fill opacity=1, draw opacity=1, line width=0pt, sharp corners}]
  table[x=x, y=g] {\datatab};
\addlegendentry{\textit{e}\textsubscript{0}\eq 0}
\addplot[red, only marks, mark=tridown, mark size=4.0pt,
  mark options={draw=red, fill=red, fill opacity=0.5, draw opacity=0.5, line width=0.9pt, sharp corners}]
  table[x=x, y=r] {\datatab};
\addlegendentry{\textit{e}\textsubscript{0}\eq 0.1}
\addplot[blue, only marks, mark=+, mark size=4.2pt,
  mark options={draw=blue, draw opacity=0.5, line width=1.2pt, sharp corners}]
  table[x=x, y=b] {\datatab};
\addlegendentry{\textit{e}\textsubscript{0}\eq 0.4}
\end{axis}
\begin{axis}[common,
  at={(72.2pt,71.8pt)}, anchor=south west, height=118.4pt,
  ymin=-3, ymax=1,
  ytick={-3,-2,-1,0,1},
  yticklabels={−3,−2,−1,0,1},
  xticklabels={0.0,0.2,0.4,0.6,0.8,1.0,1.2,1.4,1.6},
  ylabel={log\textsubscript{10}(\textit{R}\textsubscript{\textit{V}\textsubscript{99}})},
  every axis y label/.style={at={(axis description cs:-0.0887,0.5)}, rotate=90, anchor=center, font=\fontsize{16}{19}\selectfont},
  xlabel={inclination angle \textit{ι}},
  every axis x label/.style={at={(axis description cs:0.5,-0.254)}, anchor=center, font=\fontsize{16}{19}\selectfont},
]
\addplot[red, only marks, mark=tridown, mark size=4.0pt,
  mark options={draw=red, fill=red, fill opacity=0.5, draw opacity=0.5, line width=0.9pt}]
  table[x=x, y=dr] {\datatab};
\addplot[blue, only marks, mark=+, mark size=4.2pt,
  mark options={draw=blue, draw opacity=0.5, line width=1.2pt}]
  table[x=x, y=db] {\datatab};
\end{axis}
\end{tikzpicture}
\end{document}
